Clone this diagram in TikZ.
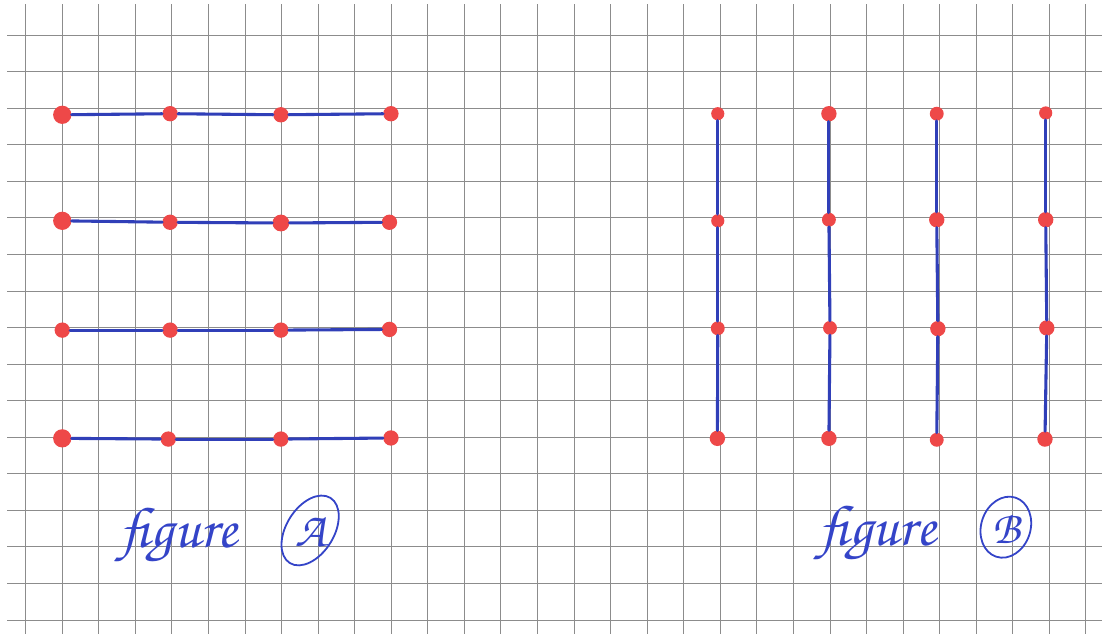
\documentclass[tikz,border=0pt]{standalone}
\usepackage[T1,TU]{fontenc}
\usepackage{tikz}
\usetikzlibrary{shapes.geometric}
\definecolor{gridgray}{RGB}{140,140,140}
\definecolor{inkblue}{RGB}{52,68,200}
\definecolor{dotred}{RGB}{238,72,72}
\colorlet{inkline_color}{inkblue!92!black}
\newcommand{\handfont}{\fontencoding{T1}\fontfamily{pzc}\fontseries{mb}\fontshape{it}\selectfont}

\begin{document}
\begin{tikzpicture}[x=1cm,y=1cm,
    gridline/.style={draw=gridgray,line width=0.75pt},
    reddot/.style={circle,fill=dotred,inner sep=0pt,minimum size=0.42cm},
    inkline/.style={draw=inkline_color,line width=2.4pt,line cap=round},
    handtext/.style={text=inkblue,font=\handfont\fontsize{45}{50}\selectfont,inner sep=0pt},
    ring/.style={ellipse,draw=inkblue,line width=1.4pt,inner sep=0pt}]
        % squared paper
        \useasboundingbox (-0.703,-0.38) rectangle (29.44,16.96);
        \fill[white] (-0.703,-0.38) rectangle (29.44,16.96);
        \foreach \y in {0,...,16} \draw[gridline] (-0.51,\y) -- (29.44,\y);
        \foreach \x in {0,...,29} \draw[gridline] (\x,-0.38) -- (\x,16.85);

        % figure A: four rows
        \node[reddot,minimum size=0.5cm] (a11) at (1,13.82) {};
        \node[reddot] (a12) at (3.95,13.85) {};
        \node[reddot] (a13) at (6.98,13.82) {};
        \node[reddot] (a14) at (9.99,13.85) {};
        \node[reddot,minimum size=0.5cm] (a21) at (1,10.92) {};
        \node[reddot] (a22) at (3.95,10.88) {};
        \node[reddot,minimum size=0.46cm] (a23) at (6.98,10.86) {};
        \node[reddot] (a24) at (9.95,10.88) {};
        \node[reddot] (a31) at (1,7.93) {};
        \node[reddot] (a32) at (3.95,7.93) {};
        \node[reddot] (a33) at (6.98,7.93) {};
        \node[reddot] (a34) at (9.95,7.95) {};
        \node[reddot,minimum size=0.5cm] (a41) at (1,4.97) {};
        \node[reddot] (a42) at (3.9,4.95) {};
        \node[reddot] (a43) at (6.98,4.95) {};
        \node[reddot] (a44) at (9.99,4.98) {};
        \draw[inkline] (a11)--(a12);
        \draw[inkline] (a12)--(a13);
        \draw[inkline] (a13)--(a14);
        \draw[inkline] (a21)--(a22);
        \draw[inkline] (a22)--(a23);
        \draw[inkline] (a23)--(a24);
        \draw[inkline] (a31)--(a32);
        \draw[inkline] (a32)--(a33);
        \draw[inkline] (a33)--(a34);
        \draw[inkline] (a41)--(a42);
        \draw[inkline] (a42)--(a43);
        \draw[inkline] (a43)--(a44);

        % figure B: four columns
        \node[reddot,minimum size=0.36cm] (b11) at (18.93,13.85) {};
        \node[reddot,minimum size=0.36cm] (b21) at (18.93,10.92) {};
        \node[reddot,minimum size=0.38cm] (b31) at (18.93,7.98) {};
        \node[reddot] (b41) at (18.92,4.97) {};
        \node[reddot] (b12) at (21.97,13.85) {};
        \node[reddot,minimum size=0.38cm] (b22) at (21.97,10.95) {};
        \node[reddot,minimum size=0.38cm] (b32) at (22,7.99) {};
        \node[reddot] (b42) at (21.97,4.97) {};
        \node[reddot,minimum size=0.38cm] (b13) at (24.92,13.85) {};
        \node[reddot] (b23) at (24.92,10.95) {};
        \node[reddot] (b33) at (24.95,7.97) {};
        \node[reddot,minimum size=0.38cm] (b43) at (24.92,4.93) {};
        \node[reddot,minimum size=0.36cm] (b14) at (27.9,13.87) {};
        \node[reddot] (b24) at (27.9,10.95) {};
        \node[reddot] (b34) at (27.93,7.99) {};
        \node[reddot] (b44) at (27.88,4.95) {};
        \draw[inkline] (b11)--(b21);
        \draw[inkline] (b21)--(b31);
        \draw[inkline] (b31)--(b41);
        \draw[inkline] (b12)--(b22);
        \draw[inkline] (b22)--(b32);
        \draw[inkline] (b32)--(b42);
        \draw[inkline] (b13)--(b23);
        \draw[inkline] (b23)--(b33);
        \draw[inkline] (b33)--(b43);
        \draw[inkline] (b14)--(b24);
        \draw[inkline] (b24)--(b34);
        \draw[inkline] (b34)--(b44);

        % captions
        \node[handtext,anchor=base] (figA) at (4.2,1.98) {figure};
        \node[ring,rotate=58,minimum width=2.1cm,minimum height=1.3cm] (ringA) at (7.78,2.45) {};
        \node[handtext,font=\handfont\fontsize{38}{42}\selectfont] (letA) at (7.8,2.4) {A};
        \node[handtext,anchor=base] (figB) at (23.3,2.04) {figure};
        \node[ring,rotate=72,minimum width=1.7cm,minimum height=1.35cm] (ringB) at (26.81,2.54) {};
        \node[handtext,font=\handfont\fontsize{36}{40}\selectfont] (letB) at (26.83,2.5) {B};
      \end{tikzpicture}
\end{document}
